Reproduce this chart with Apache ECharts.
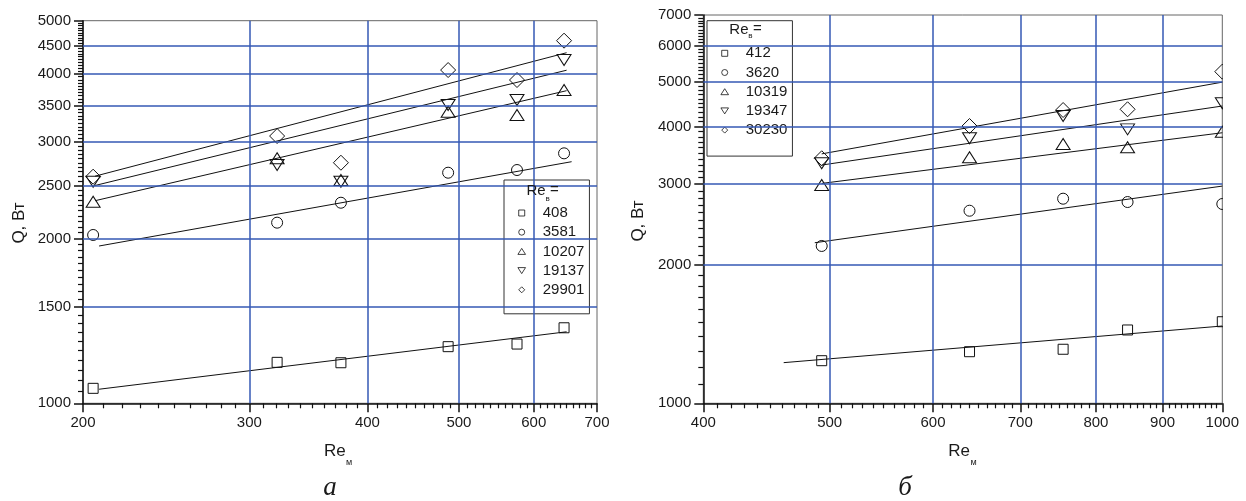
<!DOCTYPE html>
<html>
<head>
<meta charset="utf-8">
<script src="https://cdn.jsdelivr.net/npm/echarts@6/dist/echarts.min.js"></script>
<style>
  html, body { margin: 0; padding: 0; background: #fff; }
  #chart { width: 1246px; height: 501px; }
</style>
</head>
<body>
<div id="chart"></div>
<script>
// ---- panel а (left) ----
var namesA = ['408', '3581', '10207', '19137', '29901'];
var xA = [205, 321, 375, 487, 576, 646];
var qA408 = [1065, 1188, 1186, 1269, 1283, 1374];
var qA3581 = [2030, 2138, 2325, 2638, 2668, 2862];
var qA10207 = [2335, 2803, 2558, 3410, 3363, 3736];
var qA19137 = [2540, 2725, 2540, 3507, 3582, 4238];
var qA29901 = [2594, 3078, 2751, 4063, 3896, 4597];
// fitted lines, end points
var fitA408 = [[208, 1061], [650, 1351]];
var fitA3581 = [[208, 1938], [658, 2763]];
var fitA10207 = [[206, 2345], [650, 3725]];
var fitA19137 = [[206, 2500], [650, 4060]];
var fitA29901 = [[206, 2600], [650, 4370]];

// ---- panel б (right) ----
var namesB = ['412', '3620', '10319', '19347', '30230'];
var xB = [493, 640, 755, 846, 1000];
var qB412 = [1238, 1295, 1311, 1444, 1505];
var qB3620 = [2200, 2625, 2788, 2742, 2715];
var qB10319 = [2986, 3431, 3667, 3607, 3900];
var qB19347 = [3330, 3774, 4220, 3947, 4497];
var qB30230 = [3414, 4013, 4348, 4364, 5270];
var fitB412 = [[461, 1226], [1000, 1473]];
var fitB3620 = [[487, 2236], [1000, 2970]];
var fitB10319 = [[493, 3010], [1000, 3880]];
var fitB19347 = [[493, 3300], [1000, 4436]];
var fitB30230 = [[493, 3490], [1000, 5000]];

// ---- tick labels ----
var xTicksA = [200, 300, 400, 500, 600, 700];
var yTicksA = [1000, 1500, 2000, 2500, 3000, 3500, 4000, 4500, 5000];
var xTicksB = [400, 500, 600, 700, 800, 900, 1000];
var yTicksB = [1000, 2000, 3000, 4000, 5000, 6000, 7000];

var FONT = "'Liberation Sans', Arial, sans-serif";
var INK = '#1a1a1a';
var GRIDBLUE = '#3558b4';

function minorTicks(from, to, step, majors) {
    var out = [];
    for (var v = from + step; v < to; v += step) {
        if (majors.indexOf(v) < 0) out.push(v);
    }
    return out;
}
function inner(arr) { return arr.slice(1, arr.length - 1); }

// two stacked axes per side: labels + major ticks, and minor ticks
function makeAxes(pos, gi, ticks, step) {
    var min = ticks[0], max = ticks[ticks.length - 1];
    var base = {
        type: 'log', logBase: 10, gridIndex: gi, min: min, max: max, position: pos,
        axisLine: { show: false, onZero: false },
        axisTick: { show: false },
        axisLabel: { show: false },
        splitLine: { show: false }
    };
    var major = Object.assign({}, base, {
        axisLine: { show: true, onZero: false, lineStyle: { color: '#111', width: 1.5 } },
        axisTick: { show: true, length: 9, customValues: ticks, lineStyle: { color: '#111', width: 1.5 } },
        axisLabel: {
            show: true, customValues: ticks, margin: 12, color: INK, fontSize: 15, fontFamily: FONT,
            formatter: function (v) { return String(Math.round(v)); }
        }
    });
    var minor = Object.assign({}, base, {
        axisTick: { show: true, length: 5, customValues: minorTicks(min, max, step, ticks), lineStyle: { color: '#111', width: 1.2 } }
    });
    return [major, minor];
}

var symbols = ['path://M0,0H10V10H0Z', 'circle', 'path://M7,0L14,11L0,11Z', 'path://M0,0L14,0L7,11Z', 'path://M7,0L14,7L7,14L0,7Z'];
var sizes = [10, 11, [14, 11], [14, 11], 15];

// blue grid lines as a mark line on an empty helper series
function gridLines(axisIdx, xs, ys) {
    return {
        type: 'line', xAxisIndex: axisIdx, yAxisIndex: axisIdx, data: [], z: 1, silent: true,
        markLine: {
            silent: true, symbol: ['none', 'none'], animation: false,
            label: { show: false },
            lineStyle: { color: GRIDBLUE, width: 1.5, type: 'solid', opacity: 1 },
            emphasis: { disabled: true },
            data: xs.map(function (v) { return { xAxis: v }; }).concat(ys.map(function (v) { return { yAxis: v }; }))
        }
    };
}

function panelSeries(names, xs, ys, fits, axisIdx) {
    var out = [];
    names.forEach(function (n, i) {
        out.push({
            type: 'scatter', name: n, xAxisIndex: axisIdx, yAxisIndex: axisIdx,
            data: xs.map(function (x, j) { return [x, ys[i][j]]; }),
            symbol: symbols[i], symbolSize: sizes[i], clip: false, z: 3,
            itemStyle: { color: 'rgba(0,0,0,0)', borderColor: '#111', borderWidth: 1, opacity: 1 }
        });
        out.push({
            type: 'line', xAxisIndex: axisIdx, yAxisIndex: axisIdx,
            data: fits[i], symbol: 'none', silent: true, z: 2,
            lineStyle: { color: '#111', width: 1 }
        });
    });
    return out;
}

function legendBox(names, left, top, pad) {
    return {
        data: names, left: left, top: top, orient: 'vertical', selectedMode: false,
        itemWidth: 32, itemHeight: 6, itemGap: 3.2, padding: pad,
        borderColor: '#333', borderWidth: 1, backgroundColor: '#fff',
        itemStyle: { borderWidth: 0.8 },
        textStyle: { fontSize: 15, lineHeight: 16, color: INK, fontFamily: FONT }
    };
}

function txt(s, x, y, size, extra, rot) {
    return {
        type: 'text', x: x, y: y, z: 100, rotation: rot || 0,
        style: Object.assign({ text: s, font: size + 'px ' + FONT, fill: INK, textAlign: 'left', textVerticalAlign: 'middle' }, extra || {})
    };
}

var myChart = echarts.init(document.getElementById('chart'));

var option = {
    animation: false,
    backgroundColor: '#fff',
    grid: [
        { left: 83, top: 20.7, width: 514, height: 382.6, show: true, borderColor: '#666', borderWidth: 1, backgroundColor: 'transparent', outerBoundsMode: 'none' },
        { left: 703.3, top: 15, width: 519, height: 388.3, show: true, borderColor: '#666', borderWidth: 1, backgroundColor: 'transparent', outerBoundsMode: 'none' }
    ],
    xAxis: makeAxes('bottom', 0, xTicksA, 10).concat(makeAxes('bottom', 1, xTicksB, 10)),
    yAxis: makeAxes('left', 0, yTicksA, 50).concat(makeAxes('left', 1, yTicksB, 100)),
    legend: [
        legendBox(namesA, 504, 180, [25, 5, 16, 13.5]),
        legendBox(namesB, 707, 20.7, [24.6, 5, 18, 13.5])
    ],
    series: [gridLines(0, inner(xTicksA), inner(yTicksA)), gridLines(2, inner(xTicksB), inner(yTicksB))]
        .concat(panelSeries(namesA, xA, [qA408, qA3581, qA10207, qA19137, qA29901],
                        [fitA408, fitA3581, fitA10207, fitA19137, fitA29901], 0))
        .concat(panelSeries(namesB, xB, [qB412, qB3620, qB10319, qB19347, qB30230],
                        [fitB412, fitB3620, fitB10319, fitB19347, fitB30230], 2)),
    graphic: [
        // clip the points sitting on the right frame of panel б
        { type: 'rect', z: 50, shape: { x: 1223, y: 0, width: 30, height: 402 }, style: { fill: '#fff' } },
        // legend titles Re_в =
        txt('Re', 526.5, 190.5, 15), txt('в', 545.5, 199, 8), txt('=', 550, 189.5, 15),
        txt('Re', 729.3, 29.7, 15), txt('в', 748.3, 35.5, 8), txt('=', 753, 29, 15),
        // axis titles
        txt('Q, Вт', 19, 223, 17, { textAlign: 'center' }, Math.PI / 2),
        txt('Q, Вт', 638, 221, 17, { textAlign: 'center' }, Math.PI / 2),
        txt('Re', 324, 451.7, 17), txt('м', 346, 462.7, 9),
        txt('Re', 948.3, 451.7, 17), txt('м', 970.5, 462.7, 9),
        // panel captions
        txt('а', 330, 488, 27, { textAlign: 'center', font: 'italic 27px "Liberation Serif", "Times New Roman", serif' }),
        txt('б', 905, 488, 27, { textAlign: 'center', font: 'italic 27px "Liberation Serif", "Times New Roman", serif' })
    ]
};

myChart.setOption(option);
</script>
</body>
</html>
